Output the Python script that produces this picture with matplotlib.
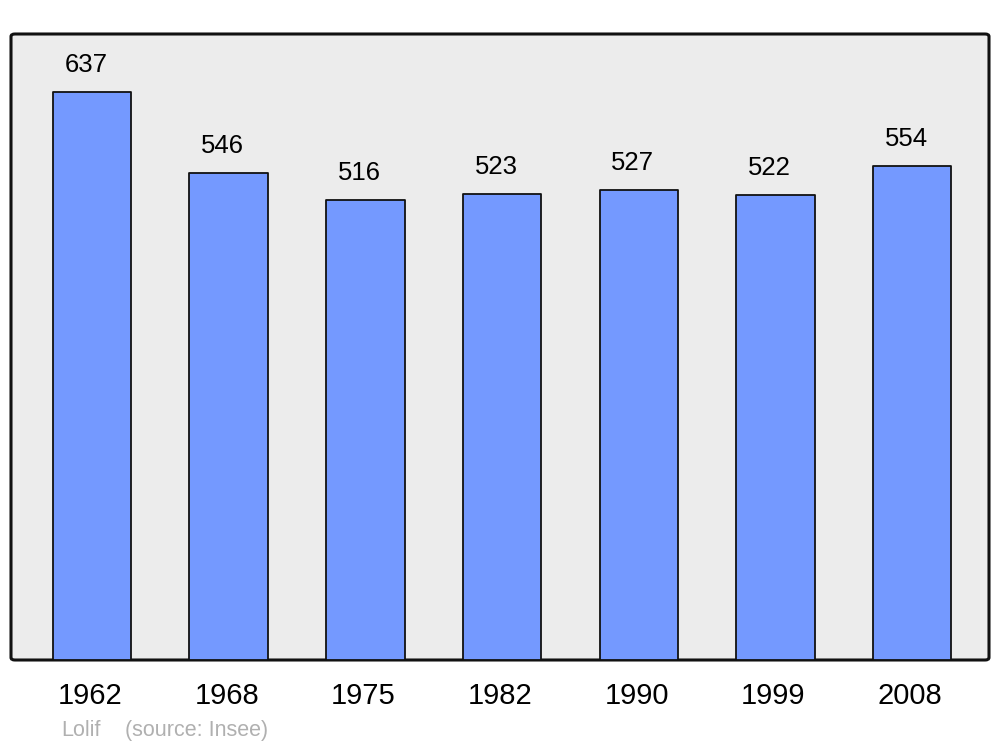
import matplotlib.pyplot as plt
from matplotlib.patches import FancyBboxPatch
from matplotlib import transforms

years = ['1962', '1968', '1975', '1982', '1990', '1999', '2008']
population = [637, 546, 516, 523, 527, 522, 554]

plt.rcParams['font.family'] = ['Liberation Sans', 'DejaVu Sans']

fig = plt.figure(figsize=(10, 7.47), dpi=100)
ax = fig.add_axes([0.011, 1 - 660 / 747, 0.978, 626 / 747])
ax.set_facecolor('none')

# rounded frame behind the bars
frame = FancyBboxPatch((0, 0), 1, 1, boxstyle='round,pad=0,rounding_size=0.004',
                       transform=ax.transAxes, facecolor='#ececec',
                       edgecolor='#111111', linewidth=2.2, zorder=0, clip_on=False)
ax.add_patch(frame)

x = range(len(years))
bars = ax.bar(x, population, width=0.575, color='#7499ff',
              edgecolor='#111111', linewidth=1.3, zorder=2)
for b in bars:
    b.set_joinstyle('round')

offset = transforms.offset_copy(ax.transData, fig=fig, x=-6, y=15, units='dots')
for i, v in enumerate(population):
    ax.text(i, v, str(v), transform=offset, ha='center', va='bottom',
            fontsize=18.5, color='black')

ax.set_xlim(-0.593, 6.562)
ax.set_ylim(0, 702)
ax.set_xticks(list(x))
ax.set_xticklabels(years, fontsize=21)
ax.tick_params(axis='x', length=0, pad=16)
tick_shift = transforms.ScaledTranslation(-2 / 100, 0, fig.dpi_scale_trans)
for lbl in ax.get_xticklabels():
    lbl.set_transform(lbl.get_transform() + tick_shift)
ax.set_yticks([])
for s in ax.spines.values():
    s.set_visible(False)

fig.text(0.061, 1 - 736 / 747, 'Lolif', fontsize=15.5,
         color='#b0b0b0', ha='left', va='baseline')
fig.text(0.125, 1 - 736 / 747, '(source: Insee)', fontsize=15.5,
         color='#b0b0b0', ha='left', va='baseline')

fig.savefig('out.png', dpi=100)
